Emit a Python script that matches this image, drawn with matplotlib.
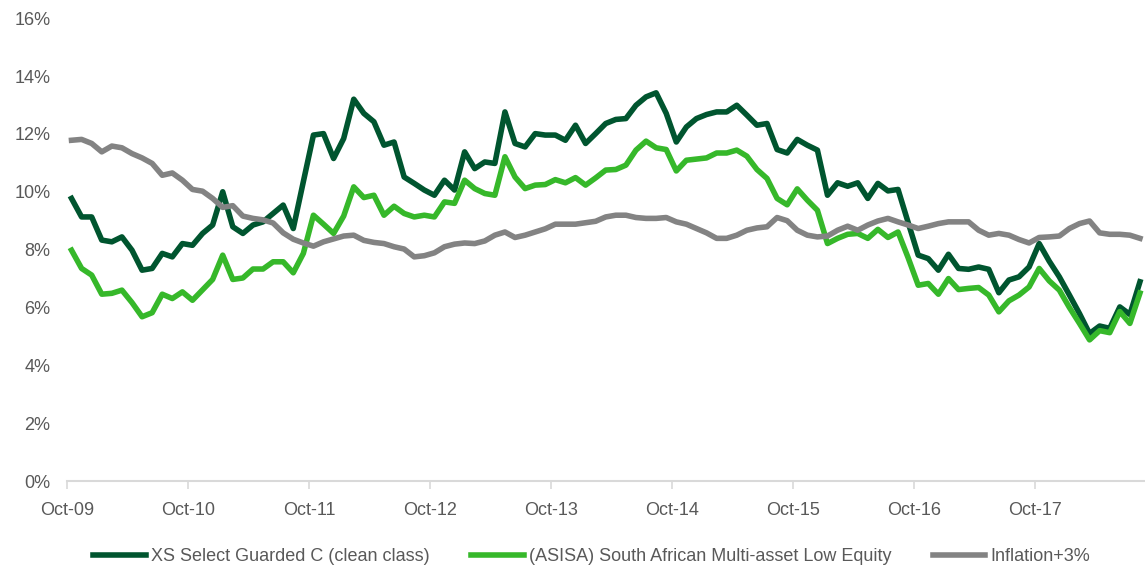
import matplotlib
matplotlib.use("Agg")
import matplotlib.pyplot as plt
import numpy as np

# monthly rolling returns (%), first point Oct-09
xs_select = [
    9.77, 9.13, 9.13, 8.33, 8.27, 8.44, 7.98, 7.29, 7.35, 7.87, 7.75, 8.21,
    8.15, 8.56, 8.85, 10.00, 8.79, 8.56, 8.85, 8.96, 9.25, 9.54, 8.73, 10.35,
    11.96, 12.01, 11.15, 11.84, 13.20, 12.71, 12.42, 11.61, 11.72, 10.51, 10.29, 10.06,
    9.88, 10.40, 10.06, 11.38, 10.80, 11.03, 10.98, 12.76, 11.67, 11.55, 12.01, 11.96,
    11.96, 11.78, 12.30, 11.67, 12.01, 12.36, 12.50, 12.53, 12.99, 13.28, 13.42, 12.71,
    11.72, 12.24, 12.53, 12.67, 12.76, 12.76, 12.99, 12.65, 12.30, 12.36, 11.46, 11.34,
    11.81, 11.61, 11.44, 9.88, 10.31, 10.19, 10.31, 9.77, 10.29, 10.03, 10.08, 8.94,
    7.81, 7.69, 7.29, 7.84, 7.35, 7.32, 7.40, 7.32, 6.51, 6.95, 7.06, 7.40,
    8.21, 7.60, 7.06, 6.43, 5.79, 5.10, 5.36, 5.28, 6.02, 5.76, 6.89,
]
asisa_low_eq = [
    7.98, 7.35, 7.12, 6.46, 6.49, 6.60, 6.17, 5.68, 5.82, 6.46, 6.31, 6.54,
    6.25, 6.61, 6.97, 7.81, 6.97, 7.02, 7.33, 7.33, 7.58, 7.58, 7.20, 7.87,
    9.19, 8.88, 8.56, 9.16, 10.17, 9.80, 9.88, 9.19, 9.50, 9.25, 9.13, 9.19,
    9.13, 9.65, 9.60, 10.40, 10.11, 9.94, 9.88, 11.21, 10.51, 10.11, 10.23, 10.25,
    10.42, 10.31, 10.49, 10.23, 10.48, 10.75, 10.77, 10.92, 11.44, 11.75, 11.52, 11.46,
    10.72, 11.09, 11.13, 11.17, 11.34, 11.34, 11.44, 11.23, 10.77, 10.46, 9.77, 9.55,
    10.10, 9.71, 9.36, 8.21, 8.39, 8.53, 8.56, 8.39, 8.70, 8.42, 8.61, 7.72,
    6.77, 6.83, 6.46, 7.00, 6.62, 6.66, 6.69, 6.43, 5.85, 6.23, 6.43, 6.71,
    7.35, 6.92, 6.60, 6.00, 5.45, 4.88, 5.20, 5.13, 5.86, 5.45, 6.50,
]
inflation_3 = [
    11.78, 11.81, 11.67, 11.38, 11.58, 11.52, 11.32, 11.17, 10.98, 10.57, 10.65, 10.40,
    10.08, 10.02, 9.77, 9.46, 9.52, 9.16, 9.08, 9.03, 8.92, 8.58, 8.36, 8.23,
    8.12, 8.27, 8.37, 8.47, 8.50, 8.32, 8.25, 8.21, 8.10, 8.02, 7.75, 7.79,
    7.89, 8.10, 8.19, 8.23, 8.21, 8.30, 8.50, 8.61, 8.42, 8.50, 8.61, 8.72,
    8.88, 8.88, 8.88, 8.93, 8.98, 9.13, 9.19, 9.19, 9.11, 9.08, 9.08, 9.11,
    8.96, 8.88, 8.73, 8.58, 8.39, 8.39, 8.50, 8.67, 8.75, 8.79, 9.11, 9.00,
    8.67, 8.50, 8.44, 8.47, 8.67, 8.81, 8.67, 8.85, 8.99, 9.08, 8.96, 8.85,
    8.73, 8.81, 8.90, 8.96, 8.96, 8.96, 8.67, 8.50, 8.56, 8.50, 8.35, 8.23,
    8.42, 8.44, 8.47, 8.73, 8.90, 8.99, 8.58, 8.53, 8.53, 8.50, 8.39,
]
tick_labels = ["Oct-09", "Oct-10", "Oct-11", "Oct-12", "Oct-13",
               "Oct-14", "Oct-15", "Oct-16", "Oct-17"]
series_names = ["XS Select Guarded C (clean class)",
                "(ASISA) South African Multi-asset Low Equity",
                "Inflation+3%"]

plt.rcParams["font.family"] = ["Liberation Sans", "DejaVu Sans"]
TXT = "#595959"
AX = "#D9D9D9"

fig = plt.figure(figsize=(11.45, 5.68), dpi=100)
ax = fig.add_axes([0.0585, 0.153, 0.9415, 0.815])

x = np.arange(len(xs_select))
ax.plot(x, xs_select, color="#00552F", lw=4.0, label=series_names[0])
ax.plot(x, asisa_low_eq, color="#36B82A", lw=4.0, label=series_names[1])
ax.plot(x, inflation_3, color="#838383", lw=4.0, label=series_names[2])

ax.set_xlim(-0.45, len(x) - 0.5)
ax.set_ylim(0, 16)
ax.set_yticks(np.arange(0, 17, 2))
ax.set_yticklabels([f"{v}%" for v in range(0, 17, 2)])
ax.set_xticks(np.arange(len(tick_labels)) * 12 - 0.45)
ax.set_xticklabels(tick_labels)

for s in ("top", "right", "left"):
    ax.spines[s].set_visible(False)
ax.spines["bottom"].set_color(AX)
ax.spines["bottom"].set_linewidth(1.5)
ax.tick_params(axis="x", colors=AX, length=6, width=1.2, labelcolor=TXT,
               labelsize=13, pad=9)
ax.tick_params(axis="y", length=0, labelcolor=TXT, labelsize=13, pad=12)

fig.legend(loc="center", bbox_to_anchor=(0.517, 0.02), ncol=3, frameon=False,
           fontsize=13, labelcolor=TXT, handlelength=2.9, handletextpad=0.3,
           columnspacing=2.3)

fig.savefig("out.png", dpi=100)
